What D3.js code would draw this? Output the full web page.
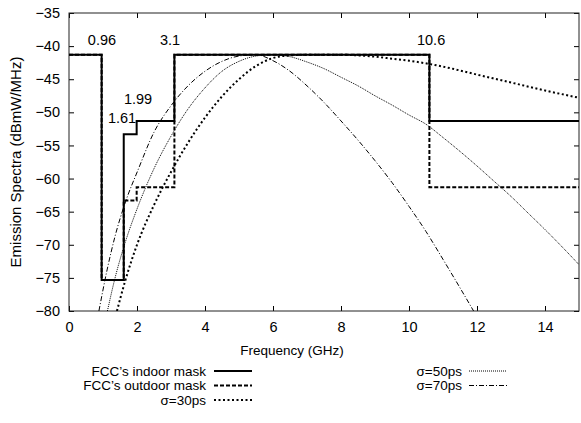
<!DOCTYPE html>
<html>
<head>
<meta charset="utf-8">
<script src="https://cdn.jsdelivr.net/npm/d3@7"></script>
<style>
  body { margin: 0; background: white; }
  text { font-family: "Liberation Sans", Arial, sans-serif; fill: #000; }
</style>
</head>
<body>
<div id="chart"></div>
<script>
// FCC masks (step edges in GHz, level from each edge onwards)
var maskEdges = [0, 0.96, 1.61, 1.99, 3.1, 10.6, 15];
var indoorMask = [-41.3, -75.3, -53.3, -51.3, -41.3, -51.3, -51.3];
var outdoorMask = [-41.3, -75.3, -63.3, -61.3, -41.3, -61.3, -61.3];

// pulse spectra
var f30 = [1.41, 1.65, 2.0, 2.5, 3.0, 3.5, 4.0, 4.5, 5.0, 5.5, 6.0, 6.5, 7.0, 7.5, 8.0, 8.5, 9.0, 9.5, 10.0, 10.6, 11.0, 12.0, 13.0, 14.0, 15.0];
var v30 = [-80, -75.5, -70.0, -64.0, -59.0, -54.6, -50.8, -47.6, -45.0, -43.0, -41.8, -41.4, -41.3, -41.3, -41.3, -41.4, -41.6, -41.9, -42.2, -42.7, -43.1, -44.3, -45.5, -46.7, -47.8];

var f50 = [1.13, 1.34, 1.65, 2.0, 2.5, 3.0, 3.5, 4.0, 4.5, 5.0, 5.5, 6.0, 6.5, 7.0, 7.5, 8.0, 8.5, 9.0, 9.5, 10.0, 10.5, 11.0, 11.5, 12.0, 12.5, 13.0, 13.5, 14.0, 14.5, 15.0];
var v50 = [-80, -75.3, -69.7, -64.6, -58.5, -53.6, -49.5, -46.3, -43.8, -42.3, -41.5, -41.3, -41.6, -42.4, -43.4, -44.7, -46.0, -47.5, -48.9, -50.4, -51.8, -53.8, -55.9, -58.1, -60.4, -62.7, -65.2, -67.7, -70.3, -73.0];

var f70 = [0.88, 1.12, 1.35, 1.65, 2.03, 2.5, 3.0, 3.5, 4.0, 4.5, 5.0, 5.5, 6.0, 6.5, 7.0, 7.5, 8.0, 8.5, 9.0, 9.5, 10.0, 10.5, 11.0, 11.5, 11.9];
var v70 = [-80, -73.8, -68.8, -63.7, -58.7, -53.0, -49.0, -46.0, -43.8, -42.3, -41.5, -41.3, -42.2, -43.8, -46.0, -48.5, -51.3, -54.2, -57.3, -60.6, -64.2, -68.0, -72.2, -76.5, -80];

// labels on the mask corners
var cornerText = ["0.96", "1.61", "1.99", "3.1", "10.6"];
var cornerF = [0.97, 1.56, 2.03, 2.97, 10.65];
var cornerV = [-39, -50.8, -48.0, -39, -39];

var xTicks = [0, 2, 4, 6, 8, 10, 12, 14];
var yTicks = [-80, -75, -70, -65, -60, -55, -50, -45, -40, -35];

var legendNames = ["FCC\u2019s indoor mask", "FCC\u2019s outdoor mask", "\u03c3=30ps", "\u03c3=50ps", "\u03c3=70ps"];

// Variables for chart creation
var margin = {top: 13, right: 2, bottom: 112, left: 69};
var width = 510;
var height = 298;

var x_scale = d3.scaleLinear().domain([0, 15]).range([0, width]);
var y_scale = d3.scaleLinear().domain([-80, -35]).range([height, 0]);

var styles = [
  {w: 2, dash: null},
  {w: 2, dash: "4,2"},
  {w: 2, dash: "2,2.5"},
  {w: 1, dash: "1,1"},
  {w: 1, dash: "5,2,1,2"}
];

var svg = d3.select("#chart").append("svg")
    .attr("width", 581)
    .attr("height", 423)
    .style("background", "white");

var chart = svg.append("g")
    .attr("transform", "translate(" + margin.left + "," + margin.top + ")");

chart.append("clipPath").attr("id", "plotclip")
  .append("rect").attr("width", width).attr("height", height);

// axes, ticks pointing inward on all four sides
var numFont = "14.5px";
var xAxis = d3.axisBottom(x_scale).tickValues(xTicks).tickSize(-5).tickPadding(11).tickFormat(d3.format("d"));
var yAxis = d3.axisLeft(y_scale).tickValues(yTicks).tickSize(-5).tickPadding(9).tickFormat(d3.format("d"));

chart.append("g").attr("transform", "translate(0," + height + ")").call(xAxis)
  .call(function(g) { g.select(".domain").remove(); })
  .selectAll("text").style("font-size", numFont).style("font-family", "Liberation Sans, Arial, sans-serif");
chart.append("g").call(yAxis)
  .call(function(g) { g.select(".domain").remove(); })
  .selectAll("text").style("font-size", numFont).style("font-family", "Liberation Sans, Arial, sans-serif");
chart.append("g").call(d3.axisTop(x_scale).tickValues(xTicks).tickSize(-5).tickFormat(""))
  .select(".domain").remove();
chart.append("g").attr("transform", "translate(" + width + ",0)")
  .call(d3.axisRight(y_scale).tickValues(yTicks).tickSize(-5).tickFormat(""))
  .select(".domain").remove();

chart.append("rect")
    .attr("width", width)
    .attr("height", height)
    .style("fill", "none")
    .style("stroke", "#222")
    .style("stroke-width", 1);

// lines
var stepLine = d3.line()
    .x(function(d) { return x_scale(d[0]); })
    .y(function(d) { return y_scale(d[1]); })
    .curve(d3.curveStepAfter);

var smoothLine = d3.line()
    .x(function(d) { return x_scale(d[0]); })
    .y(function(d) { return y_scale(d[1]); })
    .curve(d3.curveMonotoneX);

function zipData(xs, ys) {
  return xs.map(function(x, i) { return [x, ys[i]]; });
}

var plot = chart.append("g").attr("clip-path", "url(#plotclip)");

var series = [
  {d: zipData(maskEdges, indoorMask), gen: stepLine},
  {d: zipData(maskEdges, outdoorMask), gen: stepLine},
  {d: zipData(f30, v30), gen: smoothLine},
  {d: zipData(f50, v50), gen: smoothLine},
  {d: zipData(f70, v70), gen: smoothLine}
];

// draw curves first, masks on top
[2, 3, 4, 0, 1].forEach(function(i) {
  plot.append("path")
      .attr("d", series[i].gen(series[i].d))
      .style("fill", "none")
      .style("stroke", "#000")
      .style("stroke-width", styles[i].w)
      .style("stroke-dasharray", styles[i].dash);
});

// corner labels
chart.selectAll(".corner")
  .data(cornerText)
  .enter().append("text")
    .attr("class", "corner")
    .attr("x", function(d, i) { return x_scale(cornerF[i]); })
    .attr("y", function(d, i) { return y_scale(cornerV[i]); })
    .attr("dy", "0.35em")
    .style("text-anchor", "middle")
    .style("font-size", numFont)
    .text(function(d) { return d; });

// axis labels
svg.append("text")
    .attr("x", 292)
    .attr("y", 350)
    .attr("dy", "0.35em")
    .style("text-anchor", "middle")
    .style("font-size", "13.5px")
    .text("Frequency (GHz)");

svg.append("text")
    .attr("transform", "rotate(-90)")
    .attr("x", -162)
    .attr("y", 16)
    .attr("dy", "0.35em")
    .style("text-anchor", "middle")
    .style("font-size", "15px")
    .text("Emission Spectra (dBmW/MHz)");

// legend, two columns
var legendCol = [{tx: 206, lx: 214}, {tx: 462, lx: 469}];
legendNames.forEach(function(name, i) {
  var col = i < 3 ? legendCol[0] : legendCol[1];
  var row = i < 3 ? i : i - 3;
  var ly = 371 + row * 14.5;
  svg.append("text")
      .attr("x", col.tx)
      .attr("y", ly)
      .attr("dy", "0.35em")
      .style("text-anchor", "end")
      .style("font-size", "13.5px")
      .text(name);
  svg.append("line")
      .attr("x1", col.lx)
      .attr("x2", col.lx + 38)
      .attr("y1", ly)
      .attr("y2", ly)
      .style("stroke", "#000")
      .style("stroke-width", styles[i].w)
      .style("stroke-dasharray", styles[i].dash);
});
</script>
</body>
</html>
